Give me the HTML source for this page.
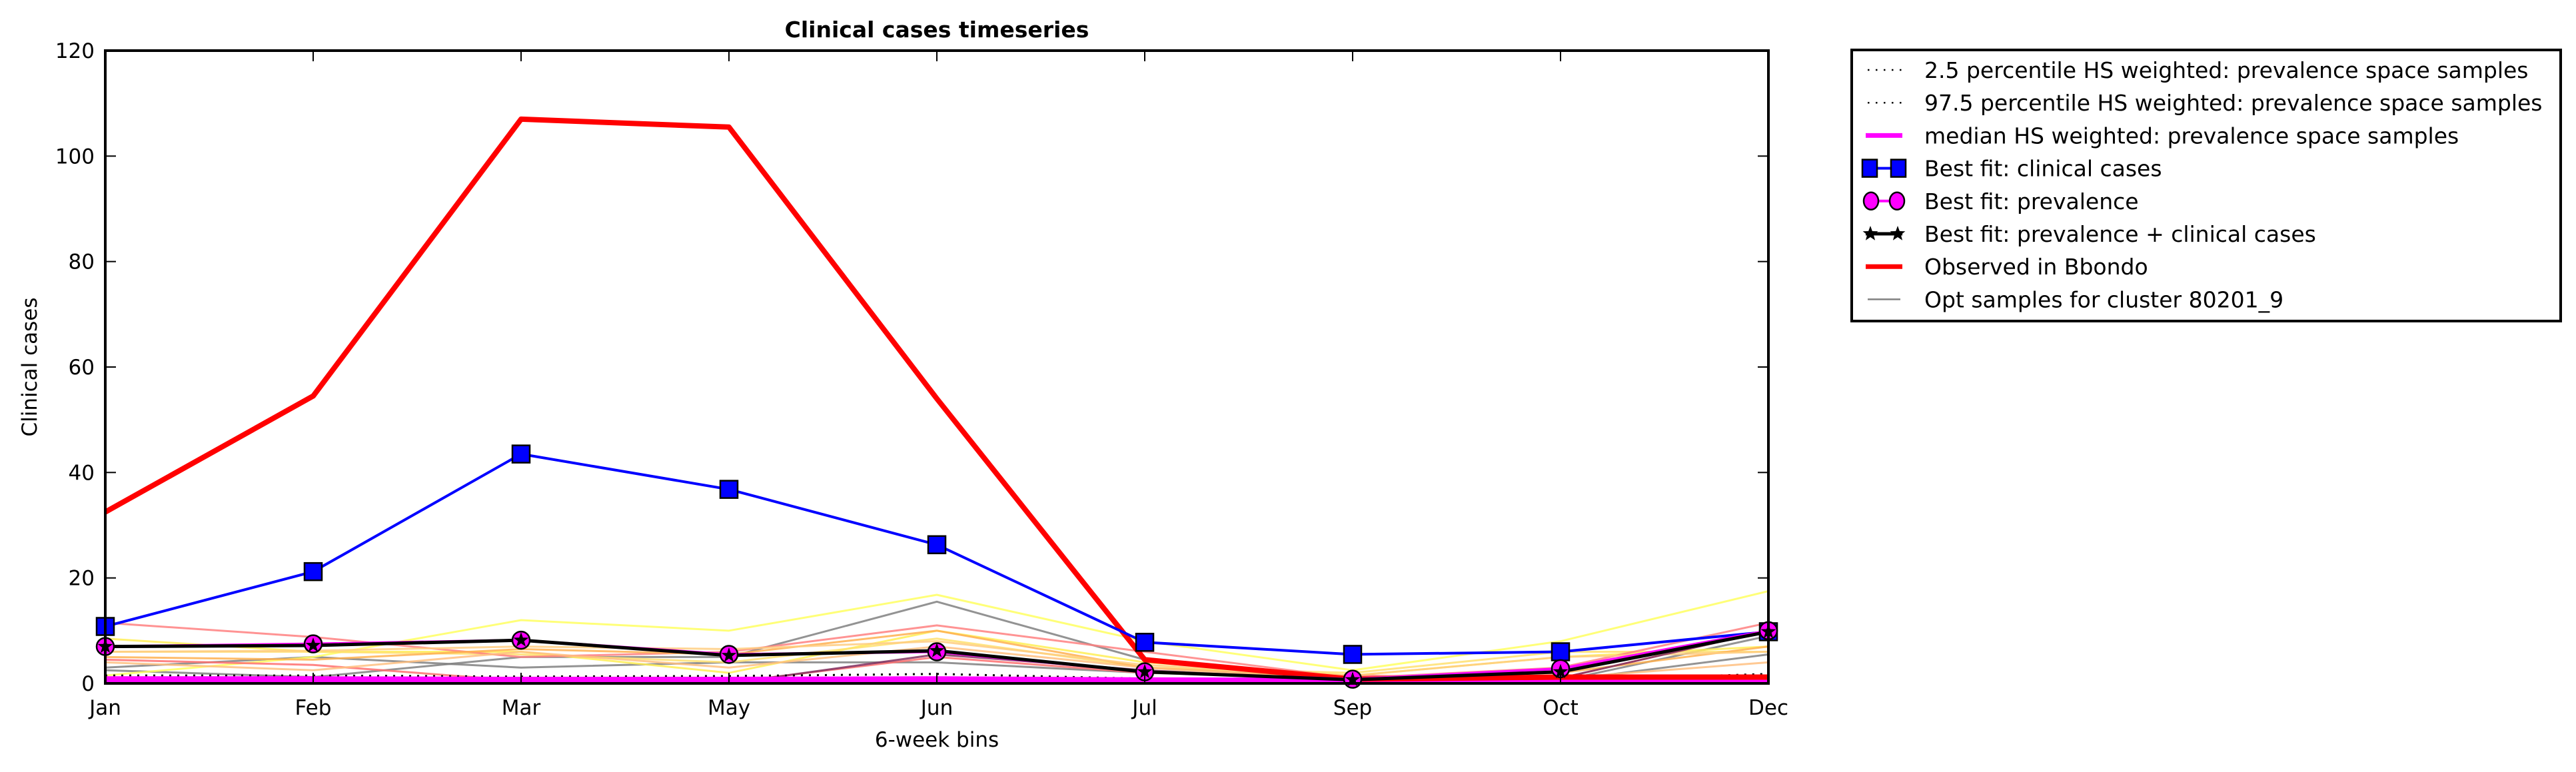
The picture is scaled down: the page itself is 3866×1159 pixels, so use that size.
<!DOCTYPE html>
<html><head><meta charset="utf-8"><style>
html,body{margin:0;padding:0;background:#fff;}
svg{display:block;font-family:"DejaVu Sans","Liberation Sans",sans-serif;}
</style></head><body>
<svg id="chart" width="3866" height="1159" viewBox="0 0 3866 1159" xmlns="http://www.w3.org/2000/svg">
<g id="plot"></g>
<g id="axes"></g>
<g id="legend"></g>
</svg>
<script>
const categories=["Jan","Feb","Mar","May","Jun","Jul","Sep","Oct","Dec"];
const yTicks=[0,20,40,60,80,100,120];
const observed=[32.5,54.5,107,105.5,54,4.5,0.8,1.2,1.2];
const bestClinical=[10.8,21.2,43.5,36.8,26.3,7.8,5.5,6,9.8];
const bestPrev=[7,7.5,8.2,5.5,6,2.2,0.8,2.8,10];
const bestBoth=[7,7.2,8.2,5.3,6.2,2.2,0.7,2.2,9.8];
const medianHS=[0.6,0.6,0.5,0.5,0.6,0.4,0.3,0.3,0.4];
const p25=[0.1,0.1,0.1,0.1,0.1,0.1,0.1,0.1,0.1];
const p975=[1.5,1.5,1.3,1.4,1.8,0.9,0.6,0.6,1.8];
const sampleGray1=[2.5,1.2,5,5,15.5,4.5,0.5,0.5,5.5];
const sampleGray2=[3,5,3,4,4,2,1,0.5,9];
const sampleYellow1=[1.5,5,12,10,16.8,8,2.5,8,17.5];
const sampleYellow2=[8.5,6,6,2,10,4,1.5,5,7];
const sampleYellow3=[6,6,5.5,4,8.5,3,2,6,6];
const sampleSalmon1=[11.5,8.8,5,6,11,6,1,3,11.5];
const sampleSalmon2=[4.5,3.5,0.5,0.2,5,2,1.5,1,10];
const sampleOrange1=[5,4.5,6.5,5.5,10,3,1,2,7];
const sampleOrange2=[6,6.2,7,6.5,8,3.5,1.5,5,6];
const sampleOrange3=[4,2.5,6,3,7,3,0.5,1,4];
const samplePurple=[1,1,0,0,5.5,2.5,0.5,1,10];

const L=158,R=2654,T=76,B=1026,YMAX=120;
const NS="http://www.w3.org/2000/svg";
function xs(i){return L+(R-L)*i/(categories.length-1);}
function ys(v){return B-(B-T)*v/YMAX;}
function mk(tag,attrs,parent){const e=document.createElementNS(NS,tag);for(const k in attrs)e.setAttribute(k,attrs[k]);parent.appendChild(e);return e;}
const plot=document.getElementById('plot'),axes=document.getElementById('axes'),leg=document.getElementById('legend');
function pts(arr){return arr.map((v,i)=>xs(i)+','+ys(v)).join(' ');}
function line(arr,color,w,name,extra){const e=mk('polyline',Object.assign({points:pts(arr),fill:'none',stroke:color,'stroke-width':w,'stroke-linejoin':'round'},extra||{}),plot);

return e;}
const defs=mk('defs',{},plot);const cp=mk('clipPath',{id:'clip'},defs);mk('rect',{x:L,y:T,width:R-L,height:B-T},cp);
plot.setAttribute('clip-path','url(#clip)');
const samples=[[sampleGray1,'#808080'],[sampleGray2,'#808080'],[sampleYellow1,'#ffff60'],[sampleYellow2,'#ffee55'],[sampleYellow3,'#ffe070'],[sampleSalmon1,'#ff8080'],[sampleSalmon2,'#ff7070'],[sampleOrange1,'#ffb050'],[sampleOrange2,'#ffcc80'],[sampleOrange3,'#ffc080'],[samplePurple,'#803060']];
samples.forEach(s=>{line(s[0],s[1],3,'opt-sample-line',{opacity:0.85});});
line(p975,'#000',3,'percentile-97-5-line',{'stroke-dasharray':'3 9'});
line(p25,'#000',3,'percentile-2-5-line',{'stroke-dasharray':'3 9'});
line(medianHS,'#ff00ff',12,'median-hs-line');
line(observed,'#ff0000',8,'observed-line');
line(bestClinical,'#0000ff',4,'best-fit-clinical-line');
line(bestPrev,'#ff00ff',4,'best-fit-prevalence-line');
line(bestBoth,'#000000',5,'best-fit-both-line');
function star(cx,cy,r){let p=[];for(let k=0;k<10;k++){const a=-Math.PI/2+k*Math.PI/5;const rr=k%2?r*0.4:r;p.push((cx+rr*Math.cos(a)).toFixed(1)+','+(cy+rr*Math.sin(a)).toFixed(1));}return p.join(' ');}
const mg=document.createElementNS(NS,'g');axes.appendChild(mg);
bestClinical.forEach((v,i)=>{const e=mk('rect',{x:xs(i)-13,y:ys(v)-13,width:26,height:26,fill:'#0000ff',stroke:'#000','stroke-width':2.5},mg);

});
bestPrev.forEach((v,i)=>{const e=mk('circle',{cx:xs(i),cy:ys(v),r:13,fill:'#ff00ff',stroke:'#000','stroke-width':2.5},mg);

});
bestBoth.forEach((v,i)=>{const e=mk('polygon',{points:star(xs(i),ys(v),12),fill:'#000'},mg);

});
const fr=mk('rect',{x:L,y:T,width:R-L,height:B-T,fill:'none',stroke:'#000','stroke-width':4},axes);


yTicks.forEach(t=>{const y=ys(t);mk('line',{x1:L,x2:L+16,y1:y,y2:y,stroke:'#000','stroke-width':2},axes);mk('line',{x1:R-16,x2:R,y1:y,y2:y,stroke:'#000','stroke-width':2},axes);
const tx=mk('text',{x:L-16,y:y+11,'text-anchor':'end','font-size':31},axes);tx.textContent=t;

});
categories.forEach((c,i)=>{const x=xs(i);mk('line',{x1:x,x2:x,y1:B,y2:B-16,stroke:'#000','stroke-width':2},axes);mk('line',{x1:x,x2:x,y1:T,y2:T+16,stroke:'#000','stroke-width':2},axes);
const tx=mk('text',{x:x,y:B+47,'text-anchor':'middle','font-size':31},axes);tx.textContent=c;

});
</script>
<script>
(function(){
const NS="http://www.w3.org/2000/svg";const axes=document.getElementById('axes');const leg=document.getElementById('legend');
function mk(tag,attrs,parent){const e=document.createElementNS(NS,tag);for(const k in attrs)e.setAttribute(k,attrs[k]);parent.appendChild(e);return e;}
let t=mk('text',{x:1406,y:56,'text-anchor':'middle','font-size':33,'font-weight':'bold'},axes);t.textContent='Clinical cases timeseries';


t=mk('text',{x:1406,y:1121,'text-anchor':'middle','font-size':31},axes);t.textContent='6-week bins';


t=mk('text',{x:0,y:0,'text-anchor':'middle','font-size':31,transform:'translate(55,551) rotate(-90)'},axes);t.textContent='Clinical cases';


const box=mk('rect',{x:2779,y:75,width:1064,height:407,fill:'#fff',stroke:'#000','stroke-width':4},leg);


const labels=["2.5 percentile HS weighted: prevalence space samples","97.5 percentile HS weighted: prevalence space samples","median HS weighted: prevalence space samples","Best fit: clinical cases","Best fit: prevalence","Best fit: prevalence + clinical cases","Observed in Bbondo","Opt samples for cluster 80201_9"];
const x0=2800,x1=2855;
labels.forEach((lab,i)=>{const y=105+i*49.2;const g=mk('g',{},leg);


if(i<2)mk('line',{x1:x0+3,x2:x1,y1:y,y2:y,stroke:'#000','stroke-width':2.5,'stroke-dasharray':'2.5 9.5'},g);
else if(i==2)mk('line',{x1:x0,x2:x1,y1:y,y2:y,stroke:'#ff00ff','stroke-width':7},g);
else if(i==3){mk('line',{x1:x0,x2:x1,y1:y,y2:y,stroke:'#0000ff','stroke-width':4},g);[x0+6,x1-6].forEach(cx=>mk('rect',{x:cx-11,y:y-13,width:22,height:26,fill:'#0000ff',stroke:'#000','stroke-width':2.5},g));}
else if(i==4){mk('line',{x1:x0,x2:x1,y1:y,y2:y,stroke:'#ff00ff','stroke-width':4},g);[x0+8,x1-8].forEach(cx=>mk('ellipse',{cx:cx,cy:y,rx:11,ry:13,fill:'#ff00ff',stroke:'#000','stroke-width':2.5},g));}
else if(i==5){mk('line',{x1:x0,x2:x1,y1:y,y2:y,stroke:'#000','stroke-width':5},g);[x0+7,x1-7].forEach(cx=>{let p=[];for(let k=0;k<10;k++){const a=-Math.PI/2+k*Math.PI/5;const rr=k%2?5:12;p.push((cx+rr*Math.cos(a)).toFixed(1)+','+(y+rr*Math.sin(a)).toFixed(1));}mk('polygon',{points:p.join(' '),fill:'#000'},g);});}
else if(i==6)mk('line',{x1:x0,x2:x1,y1:y,y2:y,stroke:'#ff0000','stroke-width':7},g);
else mk('line',{x1:x0+3,x2:x1-3,y1:y,y2:y,stroke:'#808080','stroke-width':2.5},g);
const tx=mk('text',{x:2888,y:y+12,'font-size':33},g);tx.textContent=lab;});
})();
</script>
</body></html>
